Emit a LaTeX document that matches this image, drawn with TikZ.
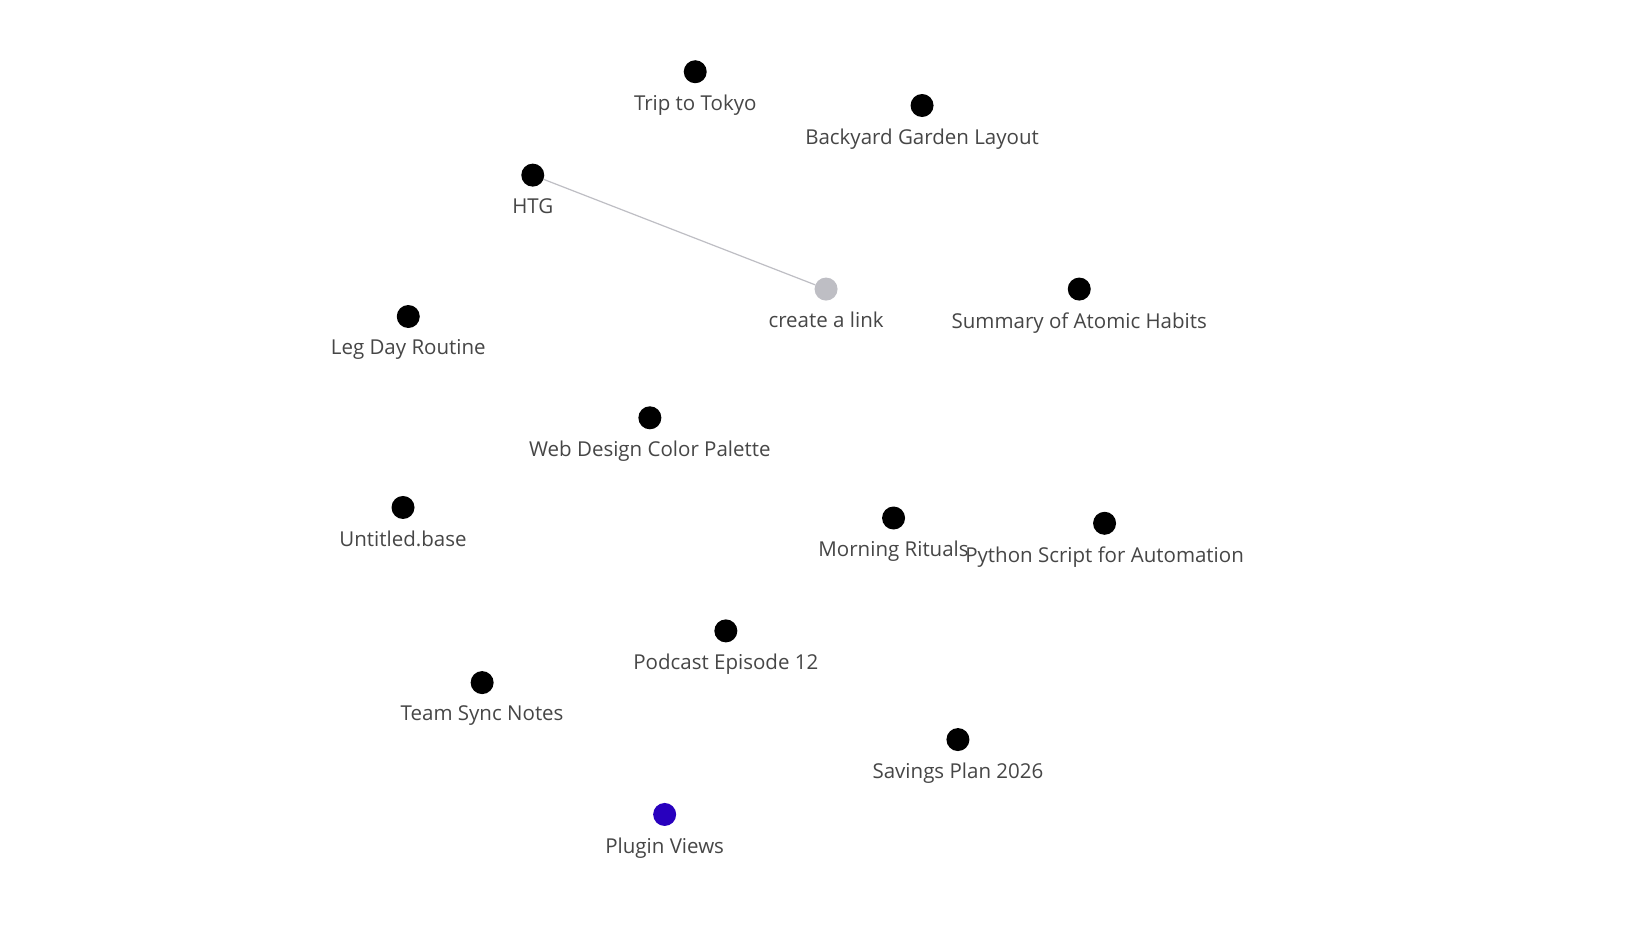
\documentclass[tikz,border=0pt]{standalone}
\usepackage{fontspec}
\setmainfont{Open Sans}
\usetikzlibrary{positioning}
\definecolor{dotgray}{RGB}{190,190,196}
\definecolor{dotblue}{RGB}{40,0,190}
\definecolor{txtgray}{RGB}{70,70,70}
\tikzset{every picture/.style={line width=0.75pt}}
\tikzset{
  dot/.style={circle, fill=black, inner sep=0pt, minimum size=23pt},
  lbl/.style={text=txtgray, font=\fontsize{20.5}{24}\selectfont, inner sep=0pt}
}
\begin{document}
\begin{tikzpicture}[x=1.055pt,y=1.055pt,yscale=-1,xscale=1]
\useasboundingbox (0,0) rectangle (1564,880);
\fill[white] (0,0) rectangle (1564,880);

% Dots
\node (tokyo) [dot] at (659,68) {};
\node (garden) [dot] at (874,100) {};
\node (htg) [dot] at (505,166) {};
\node (link) [dot, fill=dotgray] at (783,274) {};
\node (habits) [dot] at (1023,274) {};
\node (legday) [dot] at (387,300) {};
\node (palette) [dot] at (616,396) {};
\node (untitled) [dot] at (382,481) {};
\node (morning) [dot] at (847,491) {};
\node (python) [dot] at (1047,496) {};
\node (podcast) [dot] at (688,598) {};
\node (teamsync) [dot] at (457,647) {};
\node (savings) [dot] at (908,701) {};
\node (plugin) [dot, fill=dotblue] at (630,772) {};

% Link
\draw [dotgray, line width=1.2pt] (htg) -- (link);

% Labels
\node [lbl, below=11pt of tokyo] {Trip to Tokyo};
\node [lbl, below=11pt of garden] {Backyard Garden Layout};
\node [lbl, below=11pt of htg] {HTG};
\node [lbl, below=11pt of link] {create a link};
\node [lbl, below=11pt of habits] {Summary of Atomic Habits};
\node [lbl, below=11pt of legday] {Leg Day Routine};
\node [lbl, below=11pt of palette] {Web Design Color Palette};
\node [lbl, below=11pt of untitled] {Untitled.base};
\node [lbl, below=11pt of morning] {Morning Rituals};
\node [lbl, below=11pt of python] {Python Script for Automation};
\node [lbl, below=11pt of podcast] {Podcast Episode 12};
\node [lbl, below=11pt of teamsync] {Team Sync Notes};
\node [lbl, below=11pt of savings] {Savings Plan 2026};
\node [lbl, below=11pt of plugin] {Plugin Views};
\end{tikzpicture}
\end{document}
